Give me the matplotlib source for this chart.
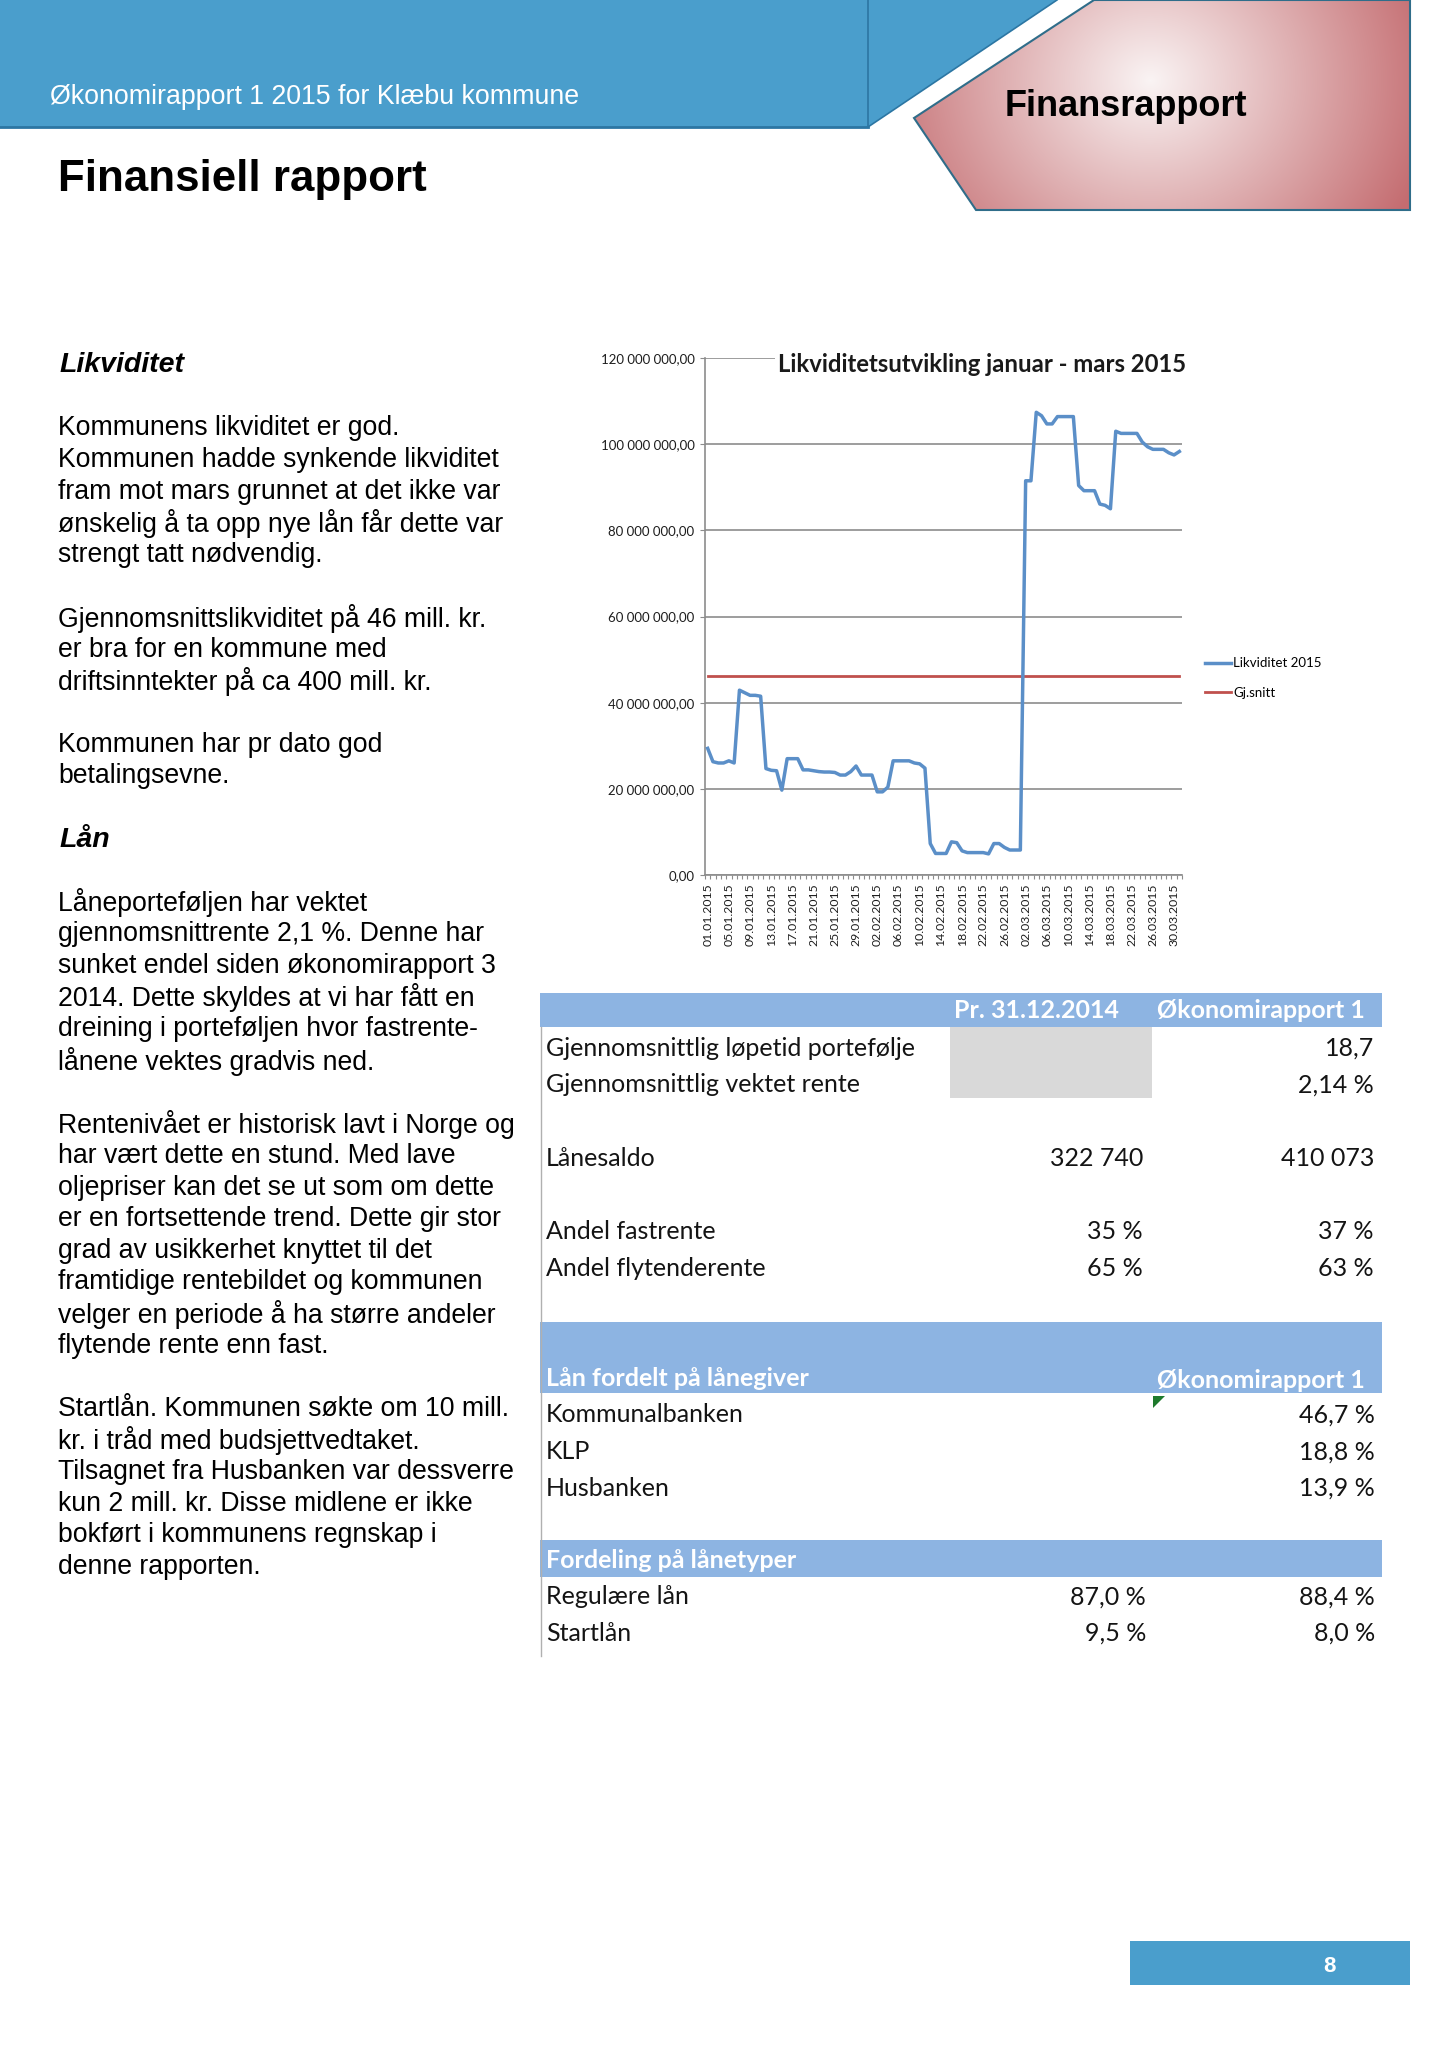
import numpy as np
import pandas as pd
import matplotlib
matplotlib.use("Agg")
import matplotlib.pyplot as plt
from matplotlib.patches import Polygon, Rectangle
from matplotlib.lines import Line2D

W, H = 1447, 2048

# likviditet per dag 01.01 - 31.03.2015, mill. kr (lest av grafen)
likviditet = [
    29.4, 26.3, 26.0, 26.0, 26.5, 26.0, 42.9, 42.3, 41.7, 41.7,
    41.5, 24.7, 24.3, 24.2, 19.7, 27.0, 27.0, 27.0, 24.4, 24.4,
    24.2, 24.0, 23.9, 23.9, 23.8, 23.2, 23.2, 24.0, 25.3, 23.2,
    23.2, 23.2, 19.3, 19.3, 20.4, 26.5, 26.5, 26.5, 26.5, 26.0,
    25.8, 24.8, 7.3, 5.0, 5.0, 5.0, 7.7, 7.5, 5.6, 5.2,
    5.2, 5.2, 5.2, 4.9, 7.3, 7.3, 6.4, 5.8, 5.8, 5.8,
    91.5, 91.5, 107.4, 106.6, 104.7, 104.7, 106.4, 106.4, 106.4, 106.4,
    90.4, 89.2, 89.2, 89.2, 86.1, 85.8, 85.0, 103.0, 102.5, 102.5,
    102.5, 102.5, 100.5, 99.4, 98.8, 98.8, 98.8, 98.0, 97.5, 98.3,
]
gj_snitt = 46.1
dager = pd.date_range("2015-01-01", periods=len(likviditet), freq="D")
dato_tekst = [d.strftime("%d.%m.%Y") for d in dager]

y_ticks = [0, 20, 40, 60, 80, 100, 120]
y_labels = ["0,00", "20 000 000,00", "40 000 000,00", "60 000 000,00",
            "80 000 000,00", "100 000 000,00", "120 000 000,00"]

# tabell
tab1_rader = ["Gjennomsnittlig løpetid portefølje", "Gjennomsnittlig vektet rente", "",
              "Lånesaldo", "", "Andel fastrente", "Andel flytenderente"]
tab1_2014 = ["", "", "", "322 740", "", "35 %", "65 %"]
tab1_rapport = ["18,7", "2,14 %", "", "410 073", "", "37 %", "63 %"]
langiver = ["Kommunalbanken", "KLP", "Husbanken"]
langiver_andel = ["46,7 %", "18,8 %", "13,9 %"]
lanetyper = ["Regulære lån", "Startlån"]
lanetyper_2014 = ["87,0 %", "9,5 %"]
lanetyper_rapport = ["88,4 %", "8,0 %"]

tekst = [
    "Likviditet", "",
    "Kommunens likviditet er god.",
    "Kommunen hadde synkende likviditet",
    "fram mot mars grunnet at det ikke var",
    "ønskelig å ta opp nye lån får dette var",
    "strengt tatt nødvendig.", "",
    "Gjennomsnittslikviditet på 46 mill. kr.",
    "er bra for en kommune med",
    "driftsinntekter på ca 400 mill. kr.", "",
    "Kommunen har pr dato god",
    "betalingsevne.", "",
    "Lån", "",
    "Låneporteføljen har vektet",
    "gjennomsnittrente 2,1 %. Denne har",
    "sunket endel siden økonomirapport 3",
    "2014. Dette skyldes at vi har fått en",
    "dreining i porteføljen hvor fastrente-",
    "lånene vektes gradvis ned.", "",
    "Rentenivået er historisk lavt i Norge og",
    "har vært dette en stund. Med lave",
    "oljepriser kan det se ut som om dette",
    "er en fortsettende trend. Dette gir stor",
    "grad av usikkerhet knyttet til det",
    "framtidige rentebildet og kommunen",
    "velger en periode å ha større andeler",
    "flytende rente enn fast.", "",
    "Startlån. Kommunen søkte om 10 mill.",
    "kr. i tråd med budsjettvedtaket.",
    "Tilsagnet fra Husbanken var dessverre",
    "kun 2 mill. kr. Disse midlene er ikke",
    "bokført i kommunens regnskap i",
    "denne rapporten.",
]
overskrifter = ["Likviditet", "Lån"]

BLA = "#4a9ecc"
BAND = "#8db4e2"
LINJE_BLA = "#5b8fc8"
LINJE_ROD = "#c0504d"
SANS = ["Liberation Sans", "DejaVu Sans"]
CAL = ["Lato", "DejaVu Sans"]
TFS = 18  # tabellfont
TXT = "#141414"

fig = plt.figure(figsize=(W / 100, H / 100), dpi=100)
fig.patch.set_facecolor("white")

# bakgrunn i pikselkoordinater
bg = fig.add_axes([0, 0, 1, 1])
bg.set_xlim(0, W)
bg.set_ylim(H, 0)
bg.axis("off")

# topptekst
bg.add_patch(Polygon([(0, 0), (1057, 0), (868, 127), (0, 127)], closed=True,
                     facecolor=BLA, edgecolor="none"))
bg.plot([0, 868], [127, 127], color="#2c76a3", lw=2)
bg.plot([868, 868], [0, 127], color="#2c76a3", lw=1.2)
bg.plot([1057, 868], [0, 127], color="#2c76a3", lw=1.2)
bg.text(50, 97, "Økonomirapport 1 2015 for Klæbu kommune", color="white",
        fontsize=19.3, family=SANS, va="center", ha="left")

xs, ys = np.meshgrid(np.arange(914, 1411), np.arange(0, 211))
d = np.sqrt(((xs - 1150) / 290.0) ** 2 + ((ys - 80) / 260.0) ** 2)
t = np.clip(d, 0, 1)[..., None]
sentrum = np.array([250, 244, 244]) / 255.0
kant = np.array([196, 108, 112]) / 255.0
grad = sentrum * (1 - t) + kant * t
im = bg.imshow(grad, extent=(914, 1411, 211, 0), aspect="auto", zorder=1)
rosa = Polygon([(1094, 0), (1410, 0), (1410, 210), (976, 210), (914, 118)], closed=True,
               facecolor="none", edgecolor="#2f6d8a", lw=1.5, zorder=2)
bg.add_patch(rosa)
im.set_clip_path(rosa)
bg.text(1126, 106, "Finansrapport", fontsize=26, fontweight="bold", family=SANS,
        va="center", ha="center", zorder=3)

bg.text(58, 180, "Finansiell rapport", fontsize=31.6, fontweight="bold", family=SANS,
        va="center", ha="left")

# brødtekst
for i, linje in enumerate(tekst):
    if not linje:
        continue
    y = 428.4 + (i - 2) * 31.63
    if linje in overskrifter:
        bg.text(59, y, linje, fontsize=20.5, fontweight="bold", style="italic",
                family=SANS, va="center", ha="left")
    else:
        bg.text(58, y, linje, fontsize=19.2, family=SANS, va="center", ha="left")

# tabell
X0, X1 = 540, 1382
ROW = 36.67
bg.add_patch(Rectangle((X0, 993), X1 - X0, 34, facecolor=BAND, edgecolor="none"))
bg.add_patch(Rectangle((950, 1027), 202, 71, facecolor="#d9d9d9", edgecolor="none"))
bg.text(1119, 1011, "Pr. 31.12.2014", color="white", fontsize=TFS, fontweight="bold",
        family=CAL, va="center", ha="right")
bg.text(1365, 1011, "Økonomirapport 1", color="white", fontsize=TFS, fontweight="bold",
        family=CAL, va="center", ha="right")
for i, (lab, v1, v2) in enumerate(zip(tab1_rader, tab1_2014, tab1_rapport)):
    y = 1048.3 + i * ROW
    bg.text(546, y, lab, fontsize=TFS, family=CAL, color=TXT, va="center", ha="left")
    bg.text(1143, y, v1, fontsize=TFS, family=CAL, color=TXT, va="center", ha="right")
    bg.text(1374, y, v2, fontsize=TFS, family=CAL, color=TXT, va="center", ha="right")

bg.add_patch(Rectangle((X0, 1322), X1 - X0, 71, facecolor=BAND, edgecolor="none"))
bg.text(546, 1378, "Lån fordelt på lånegiver", color="white", fontsize=TFS,
        fontweight="bold", family=CAL, va="center", ha="left")
bg.text(1365, 1380, "Økonomirapport 1", color="white", fontsize=TFS, fontweight="bold",
        family=CAL, va="center", ha="right")
bg.add_patch(Polygon([(1153, 1396), (1165, 1396), (1153, 1408)], closed=True,
                     facecolor="#1e7a2c", edgecolor="none"))
for i, (lab, v) in enumerate(zip(langiver, langiver_andel)):
    y = 1415 + i * ROW
    bg.text(546, y, lab, fontsize=TFS, family=CAL, color=TXT, va="center", ha="left")
    bg.text(1375, y, v, fontsize=TFS, family=CAL, color=TXT, va="center", ha="right")

bg.add_patch(Rectangle((X0, 1540), X1 - X0, 37, facecolor=BAND, edgecolor="none"))
bg.text(546, 1560, "Fordeling på lånetyper", color="white", fontsize=TFS,
        fontweight="bold", family=CAL, va="center", ha="left")
for i, (lab, v1, v2) in enumerate(zip(lanetyper, lanetyper_2014, lanetyper_rapport)):
    y = 1596.7 + i * ROW
    bg.text(546, y, lab, fontsize=TFS, family=CAL, color=TXT, va="center", ha="left")
    bg.text(1146, y, v1, fontsize=TFS, family=CAL, color=TXT, va="center", ha="right")
    bg.text(1375, y, v2, fontsize=TFS, family=CAL, color=TXT, va="center", ha="right")
bg.plot([541, 541], [1027, 1656], color="#b0b0b0", lw=1)

# sidenummer
bg.add_patch(Rectangle((1130, 1941), 280, 44, facecolor=BLA, edgecolor="none"))
bg.text(1329, 1966, "8", color="white", fontsize=16, fontweight="bold", family=SANS,
        va="center", ha="center")

# linjediagram
ax = fig.add_axes([705 / W, 1 - 875 / H, (1182 - 705) / W, (875 - 358) / H])
ax.set_facecolor("none")
x = np.arange(len(likviditet))
ax.plot(x, likviditet, color=LINJE_BLA, lw=2.5, label="Likviditet 2015", zorder=3)
ax.plot(x, [gj_snitt] * len(likviditet), color=LINJE_ROD, lw=2.0, label="Gj.snitt", zorder=2)
ax.set_xlim(-0.5, len(likviditet) - 0.5)
ax.set_ylim(0, 120)
ax.set_yticks(y_ticks)
ax.set_yticklabels(y_labels, family=CAL, fontsize=9.5, color="#1e1e1e")
ax.yaxis.grid(True, color="#8c8c8c", lw=1.2)
ax.set_axisbelow(True)
ax.set_xticks(x[::4])
ax.set_xticklabels(dato_tekst[::4], rotation=90, family=CAL, fontsize=8.8, color="#1e1e1e")
ax.set_xticks(np.arange(len(likviditet) + 1) - 0.5, minor=True)
ax.tick_params(axis="x", which="major", length=0, pad=6)
ax.tick_params(axis="x", which="minor", length=3, color="#8c8c8c", width=0.8)
ax.tick_params(axis="y", length=3.5, color="#8c8c8c", pad=4)
for s in ["top", "right"]:
    ax.spines[s].set_visible(False)
for s in ["left", "bottom"]:
    ax.spines[s].set_color("#8c8c8c")
    ax.spines[s].set_linewidth(1.2)

fig.text(982 / W, 1 - 365 / H, "Likviditetsutvikling januar - mars 2015",
         fontsize=17.2, fontweight="bold", family=CAL, ha="center", va="center",
         color="#1a1a1a", zorder=5,
         bbox=dict(facecolor="white", edgecolor="none", pad=2))

handles = [Line2D([], [], color=LINJE_BLA, lw=2.5), Line2D([], [], color=LINJE_ROD, lw=2.0)]
fig.legend(handles, ["Likviditet 2015", "Gj.snitt"], loc="center left",
           bbox_to_anchor=(1205 / W, 1 - 678 / H), frameon=False,
           prop={"family": CAL, "size": 9.5}, handlelength=2.0, handletextpad=0.15,
           labelspacing=1.3, borderpad=0, borderaxespad=0)

fig.savefig("out.png", dpi=100, facecolor="white")
